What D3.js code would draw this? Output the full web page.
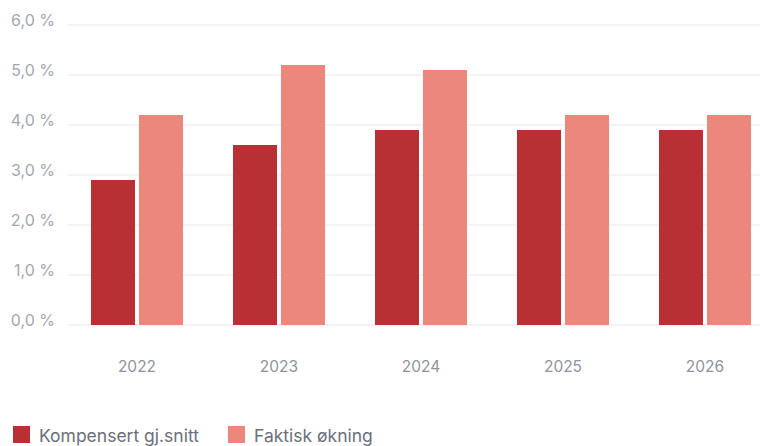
<!DOCTYPE html>
<html>
<head>
<meta charset="utf-8">
<script src="https://cdn.jsdelivr.net/npm/d3@7"></script>
<style>
  body { margin: 0; background: #fff; }
  text { font-family: Inter, "Open Sans", sans-serif; }
</style>
</head>
<body>
<div id="chart"></div>
<script>
const years = ["2022", "2023", "2024", "2025", "2026"];
const seriesNames = ["Kompensert gj.snitt", "Faktisk økning"];
const kompensert = [2.9, 3.6, 3.9, 3.9, 3.9];
const faktisk = [4.2, 5.2, 5.1, 4.2, 4.2];
const yTicks = [0, 1, 2, 3, 4, 5, 6];
const colors = ["#b83033", "#ec877b"];

const width = 760, height = 446;

const svg = d3.select("#chart").append("svg")
  .attr("width", width)
  .attr("height", height);

const data = years.map((y, i) => ({year: y, values: [kompensert[i], faktisk[i]]}));

const x0 = d3.scaleBand()
  .domain(years)
  .range([66, 776])
  .paddingInner(50 / 142)
  .paddingOuter(25 / 142);

const x1 = d3.scaleBand()
  .domain([0, 1])
  .range([0, x0.bandwidth()])
  .paddingInner(4 / 48);

const y = d3.scaleLinear()
  .domain([0, 6])
  .range([325, 25]);

// gridlines
svg.append("g").selectAll("line")
  .data(yTicks)
  .enter().append("line")
  .attr("x1", 68).attr("x2", width)
  .attr("y1", d => y(d)).attr("y2", d => y(d))
  .attr("stroke", "#efeff3")
  .attr("stroke-width", 1.5);

// y labels
svg.append("g").selectAll("text")
  .data(yTicks)
  .enter().append("text")
  .attr("x", 55)
  .attr("y", d => y(d) + 1)
  .attr("text-anchor", "end")
  .attr("fill", "#a3a7b3")
  .style("font-size", "16px")
  .text(d => d.toFixed(1).replace(".", ",") + " %");

// bars
const groups = svg.append("g").selectAll("g")
  .data(data)
  .enter().append("g")
  .attr("transform", d => "translate(" + x0(d.year) + ",0)");

groups.selectAll("rect")
  .data(d => d.values.map((v, i) => ({i: i, v: v})))
  .enter().append("rect")
  .attr("x", d => x1(d.i))
  .attr("y", d => y(d.v))
  .attr("width", x1.bandwidth())
  .attr("height", d => y(0) - y(d.v))
  .attr("fill", d => colors[d.i]);

// x labels
svg.append("g").selectAll("text")
  .data(years)
  .enter().append("text")
  .attr("x", d => x0(d) + x0.bandwidth() / 2)
  .attr("y", 372)
  .attr("text-anchor", "middle")
  .attr("fill", "#8f93a0")
  .style("font-size", "15.5px")
  .text(d => d);

// legend
const legendX = [13, 228];
const legend = svg.append("g").selectAll("g")
  .data(seriesNames)
  .enter().append("g")
  .attr("transform", (d, i) => "translate(" + legendX[i] + ",426)");

legend.append("rect")
  .attr("width", 17).attr("height", 17)
  .attr("fill", (d, i) => colors[i]);

legend.append("text")
  .attr("x", 26)
  .attr("y", 16)
  .attr("fill", "#6b6f7c")
  .style("font-size", "17.5px")
  .text(d => d);
</script>
</body>
</html>
